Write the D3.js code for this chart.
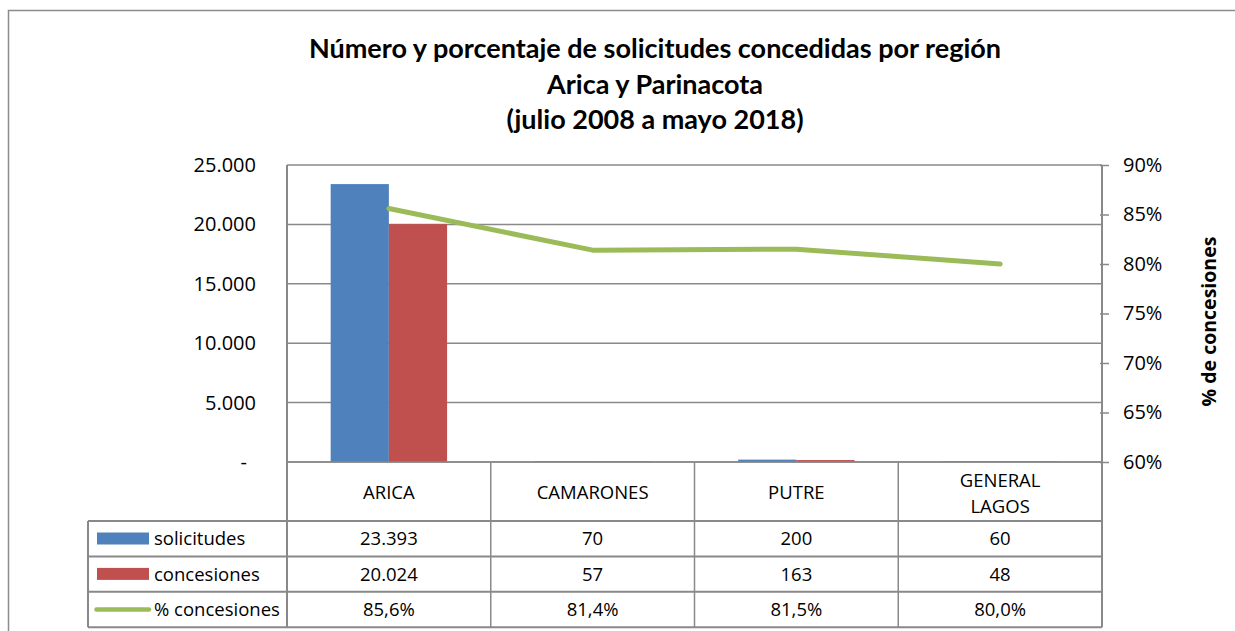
<!DOCTYPE html>
<html>
<head>
<meta charset="utf-8">
<script src="https://cdn.jsdelivr.net/npm/d3@7"></script>
<style>
  body { margin: 0; background: #fff; }
  svg { display: block; }
</style>
</head>
<body>
<div id="chart"></div>
<script>
// data
var categories = ["ARICA", "CAMARONES", "PUTRE", "GENERAL\nLAGOS"];
var seriesNames = ["solicitudes", "concesiones", "% concesiones"];
var solicitudes = [23393, 70, 200, 60];
var concesiones = [20024, 57, 163, 48];
var pctConcesiones = [85.6, 81.4, 81.5, 80.0];
var leftTicks = [0, 5000, 10000, 15000, 20000, 25000];
var rightTicks = [60, 65, 70, 75, 80, 85, 90];
var titleLines = [
  "Número y porcentaje de solicitudes concedidas por región",
  "Arica y Parinacota",
  "(julio 2008 a mayo 2018)"
];
var rightTitle = "% de concesiones";

var plotVariables = {
  width: 1235,
  height: 631,
  plotLeft: 287,
  plotRight: 1102,
  plotTop: 165,
  plotBottom: 462,
  tableLeft: 88,
  headerBottom: 521,
  rowHeight: 35.4,
  gridColor: "#898989",
  font: "'Open Sans', sans-serif"
};
var colors = ["#4F81BD", "#C0504D", "#9BBB59"];

var loc = d3.formatLocale({decimal: ",", thousands: ".", grouping: [3], currency: ["$", ""]});
var fmtInt = loc.format(",.0f");
var fmtPct = function (d) { return loc.format(".1f")(d) + "%"; };

var svg = d3.select("#chart").append("svg")
  .attr("width", plotVariables.width)
  .attr("height", plotVariables.height);

svg.append("rect")
  .attr("width", plotVariables.width).attr("height", plotVariables.height)
  .attr("fill", "#fff");

// outer chart frame (only left and top edges are visible)
svg.append("path")
  .attr("d", "M8.5,640 V10.5 H1240")
  .attr("fill", "none")
  .attr("stroke", "#8c8c8c")
  .attr("stroke-width", 1.5);

// title
var title = svg.append("g").attr("font-family", "Lato, sans-serif").attr("font-weight", "bold").attr("fill", "#000");
var titleNodes = title.selectAll("text")
  .data(titleLines)
  .join("text")
  .attr("x", 655)
  .attr("y", (d, i) => 58 + i * 35.5)
  .attr("text-anchor", "middle")
  .attr("font-size", "24px")
  .text(d => d);
// fit the first line to the width it has in the original
var w0 = titleNodes.nodes()[0].getComputedTextLength();
titleNodes.attr("font-size", (24 * 692 / w0).toFixed(2) + "px");

// scales
var x = d3.scaleBand()
  .domain(categories)
  .range([plotVariables.plotLeft, plotVariables.plotRight]);

var xSub = d3.scaleBand()
  .domain(seriesNames.slice(0, 2))
  .range([0, x.bandwidth()])
  .paddingInner(0)
  .paddingOuter(0.75);

var y = d3.scaleLinear()
  .domain([0, 25000])
  .range([plotVariables.plotBottom, plotVariables.plotTop]);

var y2 = d3.scaleLinear()
  .domain([60, 90])
  .range([plotVariables.plotBottom, plotVariables.plotTop]);

// gridlines
svg.append("g")
  .selectAll("line")
  .data(leftTicks)
  .join("line")
  .attr("x1", plotVariables.plotLeft)
  .attr("x2", plotVariables.plotRight)
  .attr("y1", d => y(d))
  .attr("y2", d => y(d))
  .attr("stroke", plotVariables.gridColor)
  .attr("stroke-width", 1.5);

// left axis labels
var leftAxis = svg.append("g")
  .attr("transform", `translate(${plotVariables.plotLeft},0)`)
  .call(d3.axisLeft(y).tickValues(leftTicks).tickSize(0).tickPadding(31)
    .tickFormat(d => d === 0 ? "-" : fmtInt(d)));
leftAxis.select(".domain").remove();
leftAxis.selectAll("text")
  .attr("font-family", plotVariables.font)
  .attr("font-size", "20px")
  .attr("fill", "#000")
  .attr("dx", d => d === 0 ? -9 : 0);

// bars
var barData = categories.map((c, i) => [
  {cat: c, key: seriesNames[0], value: solicitudes[i], color: colors[0]},
  {cat: c, key: seriesNames[1], value: concesiones[i], color: colors[1]}
]);
svg.append("g")
  .selectAll("g")
  .data(barData)
  .join("g")
  .attr("transform", d => `translate(${x(d[0].cat)},0)`)
  .selectAll("rect")
  .data(d => d)
  .join("rect")
  .attr("x", d => xSub(d.key))
  .attr("y", d => y(d.value))
  .attr("width", xSub.bandwidth())
  .attr("height", d => y(0) - y(d.value))
  .attr("fill", d => d.color);

// baseline redrawn over bars
svg.append("line")
  .attr("x1", plotVariables.plotLeft).attr("x2", plotVariables.plotRight)
  .attr("y1", y(0)).attr("y2", y(0))
  .attr("stroke", plotVariables.gridColor).attr("stroke-width", 1.5);

// % line
var line = d3.line()
  .x((d, i) => x(categories[i]) + x.bandwidth() / 2)
  .y(d => y2(d));
svg.append("path")
  .datum(pctConcesiones)
  .attr("d", line)
  .attr("fill", "none")
  .attr("stroke", colors[2])
  .attr("stroke-width", 5)
  .attr("stroke-linejoin", "round")
  .attr("stroke-linecap", "round");

// right axis
var rightAxis = svg.append("g")
  .attr("transform", `translate(${plotVariables.plotRight},0)`)
  .call(d3.axisRight(y2).tickValues(rightTicks).tickSizeInner(7).tickSizeOuter(0).tickPadding(14)
    .tickFormat(d => d + "%"));
rightAxis.select(".domain").remove();
rightAxis.selectAll("line").attr("stroke", plotVariables.gridColor).attr("stroke-width", 1.5).attr("x1", -2);
rightAxis.selectAll("text")
  .attr("font-family", plotVariables.font)
  .attr("font-size", "20px")
  .attr("fill", "#000");

svg.append("text")
  .attr("transform", `translate(1216,${(plotVariables.plotTop + plotVariables.plotBottom) / 2 + 8}) rotate(-90)`)
  .attr("text-anchor", "middle")
  .attr("font-family", plotVariables.font)
  .attr("font-weight", "bold")
  .attr("font-size", "19.5px")
  .attr("fill", "#000")
  .text(rightTitle);

// data table
var tableBottom = plotVariables.headerBottom + plotVariables.rowHeight * 3;
var table = svg.append("g")
  .attr("stroke", plotVariables.gridColor)
  .attr("stroke-width", 2)
  .attr("fill", "none");

// horizontal lines
var rowYs = d3.range(4).map(i => plotVariables.headerBottom + i * plotVariables.rowHeight);
table.selectAll("line.h")
  .data(rowYs)
  .join("line")
  .attr("class", "h")
  .attr("x1", plotVariables.tableLeft)
  .attr("x2", plotVariables.plotRight)
  .attr("y1", d => d)
  .attr("y2", d => d);

// vertical lines
var colXs = categories.map(c => x(c)).concat([plotVariables.plotRight]);
table.selectAll("line.v")
  .data(colXs)
  .join("line")
  .attr("class", "v")
  .attr("x1", d => d)
  .attr("x2", d => d)
  .attr("y2", tableBottom)
  .attr("stroke-width", (d, i) => i === 0 || i === colXs.length - 1 ? 2 : 1.5)
  .attr("y1", (d, i) => i === 0 || i === colXs.length - 1 ? plotVariables.plotTop : plotVariables.plotBottom);
table.append("line")
  .attr("x1", plotVariables.tableLeft).attr("x2", plotVariables.tableLeft)
  .attr("y1", plotVariables.headerBottom).attr("y2", tableBottom);

// header labels
var header = svg.append("g")
  .attr("font-family", plotVariables.font)
  .attr("font-size", "18.5px")
  .attr("fill", "#000")
  .attr("text-anchor", "middle");
header.selectAll("text")
  .data(categories)
  .join("text")
  .attr("x", d => x(d) + x.bandwidth() / 2)
  .attr("y", d => d.split("\n").length > 1 ? 487 : 499)
  .each(function (d) {
    d3.select(this).selectAll("tspan")
      .data(d.split("\n"))
      .join("tspan")
      .attr("x", x(d) + x.bandwidth() / 2)
      .attr("dy", (t, i) => i === 0 ? 0 : 26)
      .text(t => t);
  });

// table values
var rows = [
  solicitudes.map(fmtInt),
  concesiones.map(fmtInt),
  pctConcesiones.map(fmtPct)
];
var cells = svg.append("g")
  .attr("font-family", plotVariables.font)
  .attr("font-size", "18.5px")
  .attr("fill", "#000")
  .attr("text-anchor", "middle");
rows.forEach(function (row, r) {
  cells.selectAll("text.r" + r)
    .data(row)
    .join("text")
    .attr("class", "r" + r)
    .attr("x", (d, i) => x(categories[i]) + x.bandwidth() / 2)
    .attr("y", rowYs[r] + plotVariables.rowHeight / 2 + 6.5)
    .text(d => d);
});

// legend keys in the first column
var legend = svg.append("g");
legend.selectAll("rect")
  .data(seriesNames.slice(0, 2))
  .join("rect")
  .attr("x", 97)
  .attr("y", (d, i) => rowYs[i] + 11.5)
  .attr("width", 52)
  .attr("height", 12)
  .attr("fill", (d, i) => colors[i]);
legend.append("line")
  .attr("x1", 96.5).attr("x2", 149)
  .attr("y1", rowYs[2] + plotVariables.rowHeight / 2)
  .attr("y2", rowYs[2] + plotVariables.rowHeight / 2)
  .attr("stroke", colors[2])
  .attr("stroke-width", 4.5)
  .attr("stroke-linecap", "round");
legend.selectAll("text")
  .data(seriesNames)
  .join("text")
  .attr("x", 154)
  .attr("y", (d, i) => rowYs[i] + plotVariables.rowHeight / 2 + 6.5)
  .attr("font-family", plotVariables.font)
  .attr("font-size", "18.5px")
  .attr("fill", "#000")
  .text(d => d);
</script>
</body>
</html>
